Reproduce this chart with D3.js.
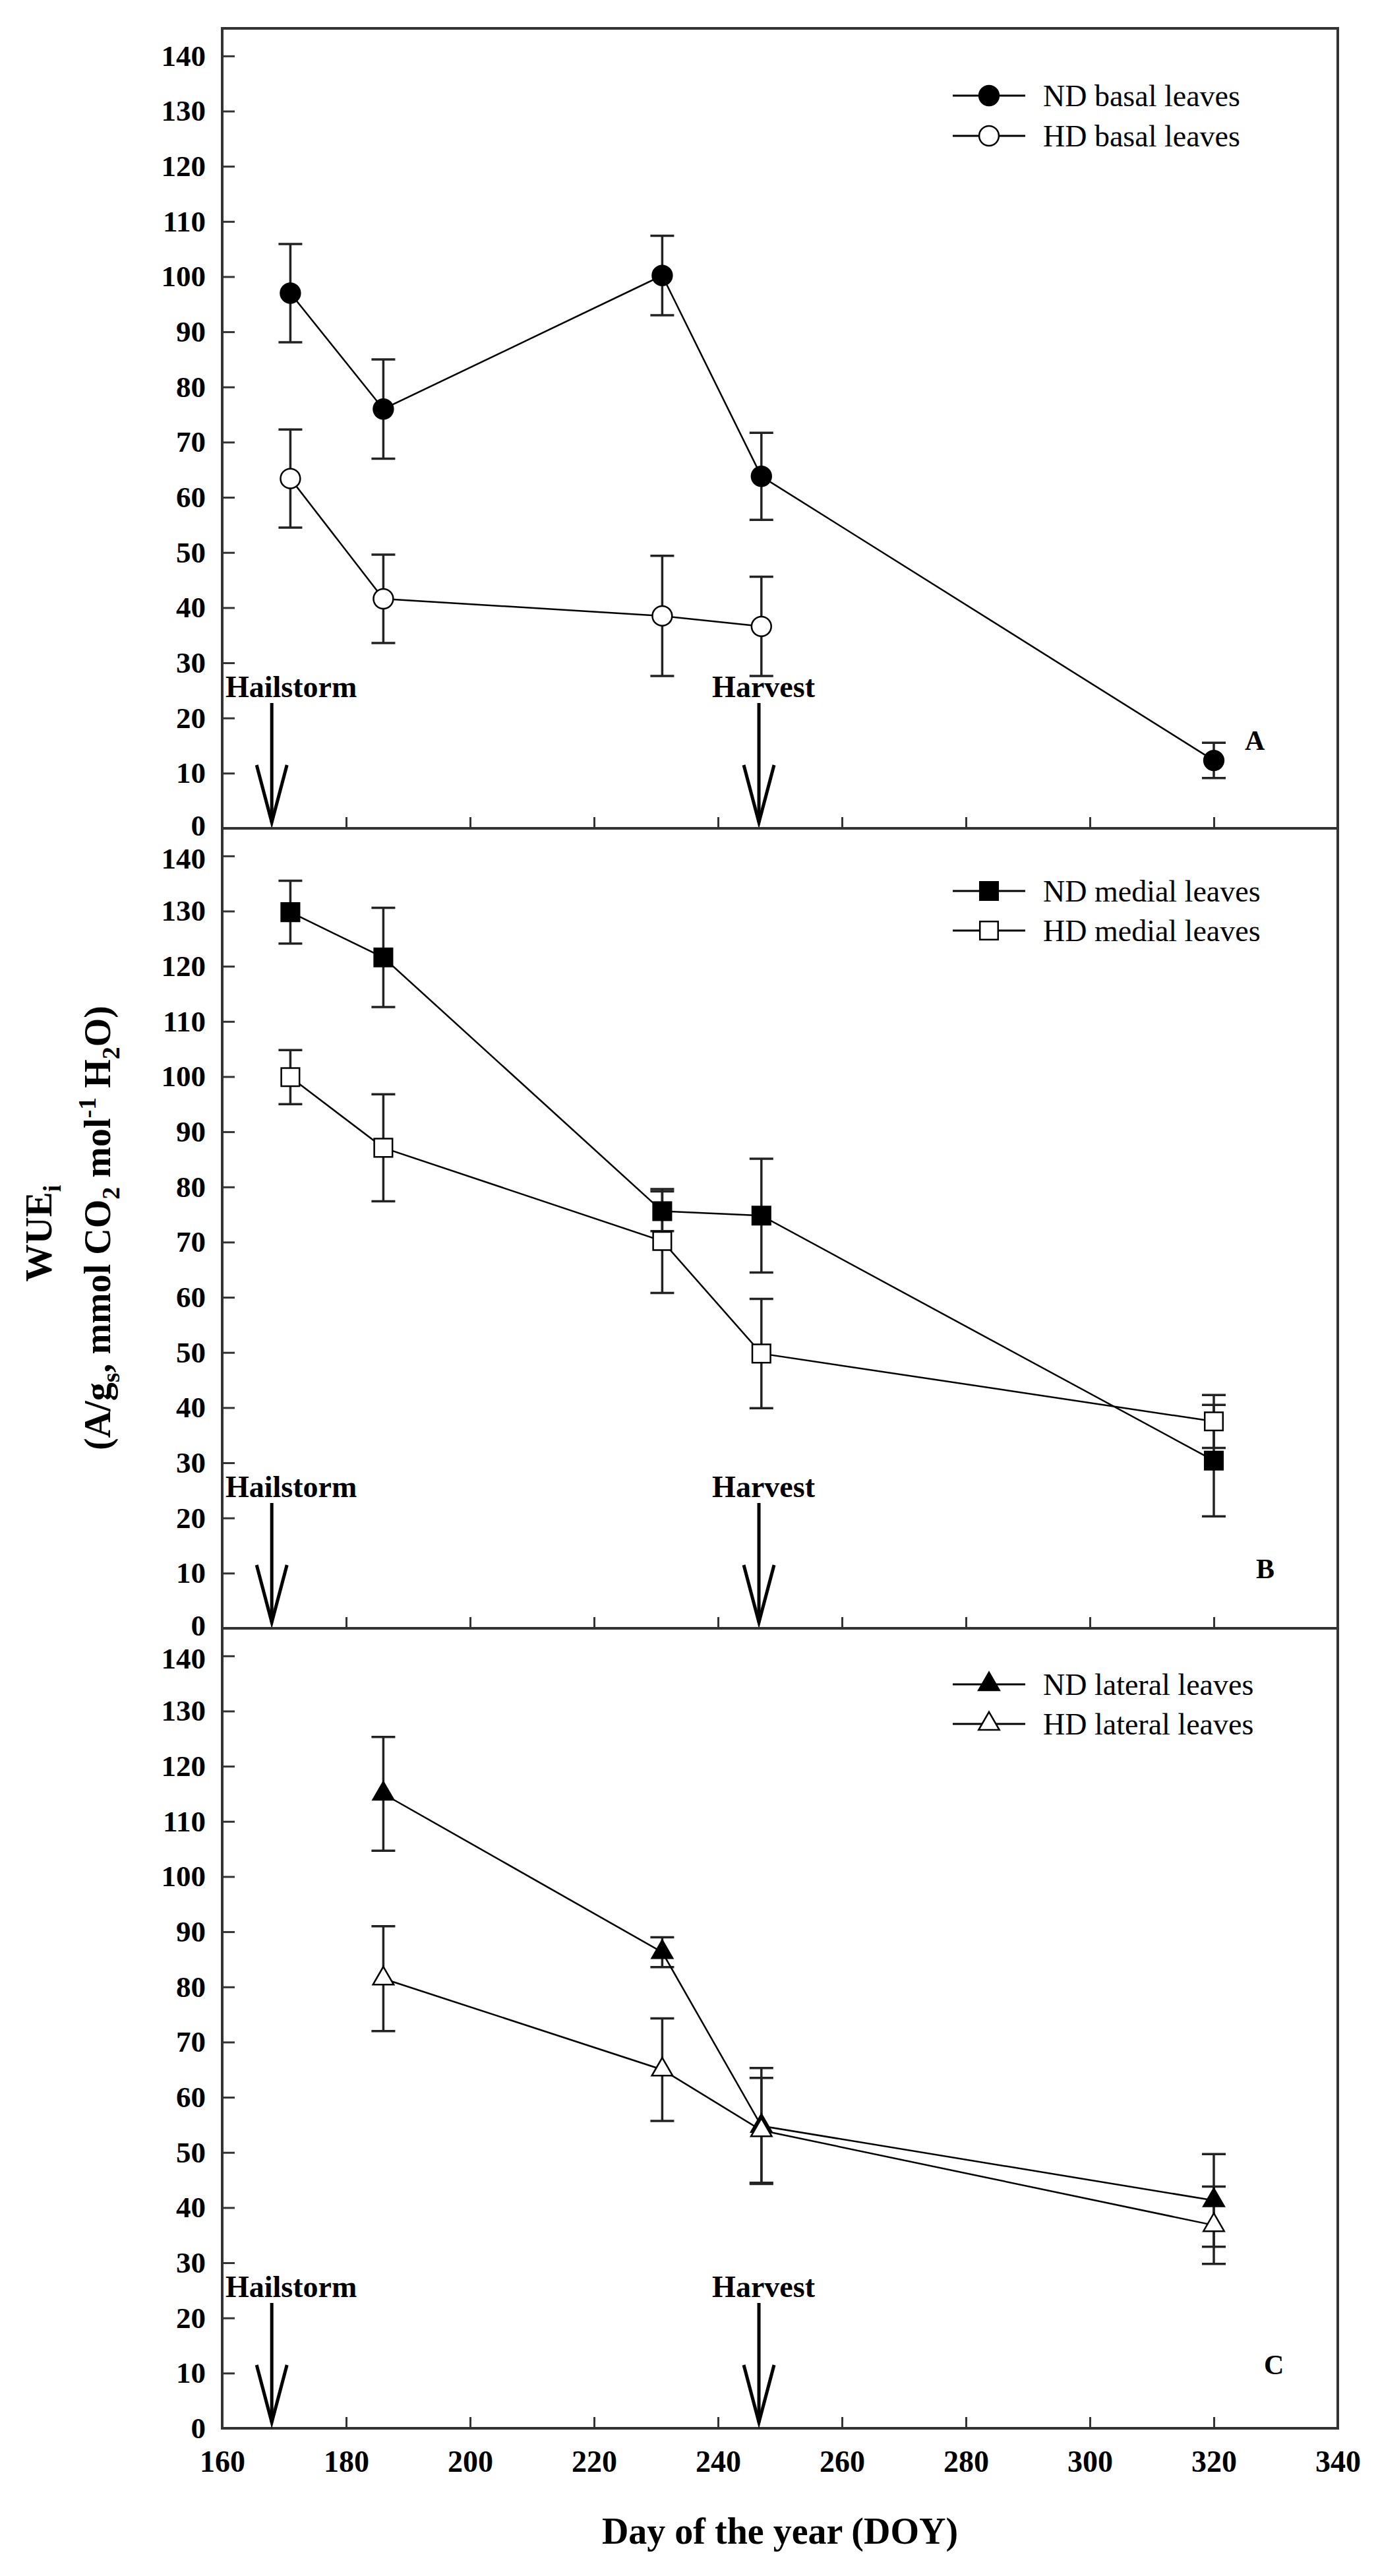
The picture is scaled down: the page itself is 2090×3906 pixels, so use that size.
<!DOCTYPE html>
<html>
<head>
<meta charset="utf-8">
<script src="https://cdn.jsdelivr.net/npm/d3@7"></script>
<style>
  body { margin: 0; background: #fff; }
  text { font-family: "Liberation Serif", "Times New Roman", serif; fill: #000; }
</style>
</head>
<body>
<svg id="chart"></svg>
<script>
// values (DOY, WUEi and error bar half-lengths)
const basalDoy = [171, 186, 231, 247, 320];
const ndBasal = [97, 76, 100.2, 63.8, 12.3];
const ndBasalErr = [8.9, 9, 7.2, 7.9, 3.2];
const hdBasalDoy = [171, 186, 231, 247];
const hdBasal = [63.4, 41.6, 38.5, 36.6];
const hdBasalErr = [8.9, 8, 10.9, 9];

const medialDoy = [171, 186, 231, 247, 320];
const ndMedial = [129.8, 121.6, 75.6, 74.8, 30.4];
const ndMedialErr = [5.7, 9, 3.6, 10.3, 10.1];
const hdMedial = [99.9, 87.1, 70.2, 49.8, 37.5];
const hdMedialErr = [4.9, 9.7, 9.4, 9.9, 4.8];

const lateralDoy = [186, 231, 247, 320];
const ndLateral = [115, 86.3, 54.8, 41.3];
const ndLateralErr = [10.3, 2.7, 10.5, 8.4];
const hdLateral = [81.5, 65, 54, 36.8];
const hdLateralErr = [9.5, 9.3, 9.5, 7];

const eventNames = ["Hailstorm", "Harvest"];
const eventDoy = [168, 246.6];

const xTicks = d3.range(160, 341, 20);
const yTicks = d3.range(0, 141, 10);

// layout
const width = 2090, height = 3906;
const left = 337, right = 2029, top0 = 43, panelH = 1213;

const svg = d3.select("#chart")
    .attr("width", width)
    .attr("height", height);

const x = d3.scaleLinear().domain([160, 340]).range([left, right]);

const zip = (xs, ys, es) => xs.map((d, i) => ({ x: d, y: ys[i], e: es[i] }));

const panels = [
  {
    label: "A", labelPos: [1888, 119], legendY: [102, 163],
    series: [
      { name: "ND basal leaves", data: zip(basalDoy, ndBasal, ndBasalErr), shape: d3.symbolCircle, size: 700, fill: "#000" },
      { name: "HD basal leaves", data: zip(hdBasalDoy, hdBasal, hdBasalErr), shape: d3.symbolCircle, size: 700, fill: "#fff" }
    ]
  },
  {
    label: "B", labelPos: [1905, 76], legendY: [95, 155],
    series: [
      { name: "ND medial leaves", data: zip(medialDoy, ndMedial, ndMedialErr), shape: d3.symbolSquare, size: 760, fill: "#000" },
      { name: "HD medial leaves", data: zip(medialDoy, hdMedial, hdMedialErr), shape: d3.symbolSquare, size: 760, fill: "#fff" }
    ]
  },
  {
    label: "C", labelPos: [1917, 82], legendY: [85, 145],
    series: [
      { name: "ND lateral leaves", data: zip(lateralDoy, ndLateral, ndLateralErr), shape: d3.symbolTriangle, size: 430, fill: "#000" },
      { name: "HD lateral leaves", data: zip(lateralDoy, hdLateral, hdLateralErr), shape: d3.symbolTriangle, size: 430, fill: "#fff" }
    ]
  }
];

panels.forEach((p, pi) => {
  const top = top0 + pi * panelH;
  const bottom = top + panelH;
  const y = d3.scaleLinear().domain([0, 145]).range([bottom, top]);
  const g = svg.append("g");
  const first = pi === 0;
  const last = pi === panels.length - 1;

  // frame
  g.append("rect")
      .attr("x", left).attr("y", top)
      .attr("width", right - left).attr("height", panelH)
      .attr("fill", "none")
      .attr("stroke", "#333")
      .attr("stroke-width", 4);

  // y axis
  const yAxis = g.append("g")
      .attr("transform", `translate(${left},0)`)
      .call(d3.axisLeft(y).tickValues(yTicks).tickSizeInner(-19).tickSizeOuter(0).tickPadding(25));
  yAxis.select(".domain").remove();
  yAxis.selectAll(".tick line").attr("stroke", "#333").attr("stroke-width", 3);
  yAxis.selectAll(".tick text")
      .attr("font-weight", "bold")
      .attr("font-size", 45)
      .attr("fill", "#000")
      // the 0 of one panel and the 140 of the next sit close together
      .attr("y", d => (d === 0 && !last) ? -4 : (d === 140 && !first) ? 4 : 0);

  // x axis
  const xAxis = g.append("g")
      .attr("transform", `translate(0,${bottom})`)
      .call(d3.axisBottom(x).tickValues(xTicks).tickSizeInner(-17).tickSizeOuter(0)
        .tickPadding(33).tickFormat(last ? d3.format("d") : ""));
  xAxis.select(".domain").remove();
  xAxis.selectAll(".tick line").attr("stroke", "#333").attr("stroke-width", 3);
  xAxis.selectAll(".tick text")
      .attr("font-weight", "bold")
      .attr("font-size", 46)
      .attr("fill", "#000");

  // event arrows
  eventNames.forEach((name, i) => {
    const ax = x(eventDoy[i]);
    const tip = bottom - 9;
    const tail = bottom - 190;
    g.append("line")
        .attr("x1", ax).attr("x2", ax).attr("y1", tail).attr("y2", tip)
        .attr("stroke", "#000").attr("stroke-width", 5);
    g.append("path")
        .attr("d", `M${ax - 23},${tip - 87}L${ax},${tip}L${ax + 23},${tip - 87}`)
        .attr("fill", "none").attr("stroke", "#000").attr("stroke-width", 5);
    const t = g.append("text")
        .attr("x", ax).attr("y", bottom - 199)
        .attr("text-anchor", "middle")
        .attr("font-weight", "bold")
        .attr("font-size", 46)
        .text(name);
    const w = t.node().getComputedTextLength();
    if (ax - w / 2 < left + 5) t.attr("text-anchor", "start").attr("x", left + 5);
    else t.attr("x", ax + 7);
  });

  const line = d3.line().x(d => x(d.x)).y(d => y(d.y));

  // error bars
  p.series.forEach(s => {
    const eb = g.append("g").attr("stroke", "#222").attr("stroke-width", 3.5);
    s.data.forEach(d => {
      const cx = x(d.x);
      eb.append("line").attr("x1", cx).attr("x2", cx)
          .attr("y1", y(d.y - d.e)).attr("y2", y(d.y + d.e));
      [d.y - d.e, d.y + d.e].forEach(v => {
        eb.append("line").attr("x1", cx - 18).attr("x2", cx + 18)
            .attr("y1", y(v)).attr("y2", y(v));
      });
    });
  });

  // lines
  p.series.forEach(s => {
    g.append("path")
        .datum(s.data)
        .attr("fill", "none")
        .attr("stroke", "#000")
        .attr("stroke-width", 2.5)
        .attr("d", line);
  });

  // markers
  p.series.forEach(s => {
    g.selectAll(null)
      .data(s.data)
      .join("path")
        .attr("transform", d => `translate(${x(d.x)},${y(d.y)})`)
        .attr("d", d3.symbol().type(s.shape).size(s.size))
        .attr("fill", s.fill)
        .attr("stroke", "#000")
        .attr("stroke-width", 2.5);
  });

  // legend
  p.series.forEach((s, i) => {
    const ly = top + p.legendY[i];
    g.append("line")
        .attr("x1", 1445).attr("x2", 1555).attr("y1", ly).attr("y2", ly)
        .attr("stroke", "#000").attr("stroke-width", 3);
    g.append("path")
        .attr("transform", `translate(1500,${ly})`)
        .attr("d", d3.symbol().type(s.shape).size(s.size))
        .attr("fill", s.fill)
        .attr("stroke", "#000")
        .attr("stroke-width", 2.5);
    g.append("text")
        .attr("x", 1582).attr("y", ly + 16)
        .attr("font-size", 46)
        .text(s.name);
  });

  // panel letter
  g.append("text")
      .attr("x", p.labelPos[0]).attr("y", bottom - p.labelPos[1])
      .attr("font-weight", "bold")
      .attr("font-size", 42)
      .text(p.label);
});

// x axis title
svg.append("text")
    .attr("x", (left + right) / 2).attr("y", 3857)
    .attr("text-anchor", "middle")
    .attr("font-weight", "bold")
    .attr("font-size", 56)
    .text("Day of the year (DOY)");

// y axis title, two lines
const yt = svg.append("g").attr("transform", "translate(0,1862) rotate(-90)");
const l1 = yt.append("text")
    .attr("x", -8).attr("y", 78)
    .attr("text-anchor", "middle")
    .attr("font-weight", "bold")
    .attr("font-size", 57);
l1.append("tspan").text("WUE");
l1.append("tspan").attr("font-size", 38).attr("dy", 14).text("i");

const l2 = yt.append("text")
    .attr("x", 0).attr("y", 167)
    .attr("text-anchor", "middle")
    .attr("font-weight", "bold")
    .attr("font-size", 56);
const parts = [
  ["(A/g", 0, 56], ["s", 14, 38], [", mmol CO", -14, 56], ["2", 14, 38],
  [" mol", -14, 56], ["-1", -22, 38], [" H", 22, 56], ["2", 14, 38], ["O)", -14, 56]
];
parts.forEach(([t, dy, fs]) => {
  l2.append("tspan").attr("dy", dy).attr("font-size", fs).text(t);
});
</script>
</body>
</html>
